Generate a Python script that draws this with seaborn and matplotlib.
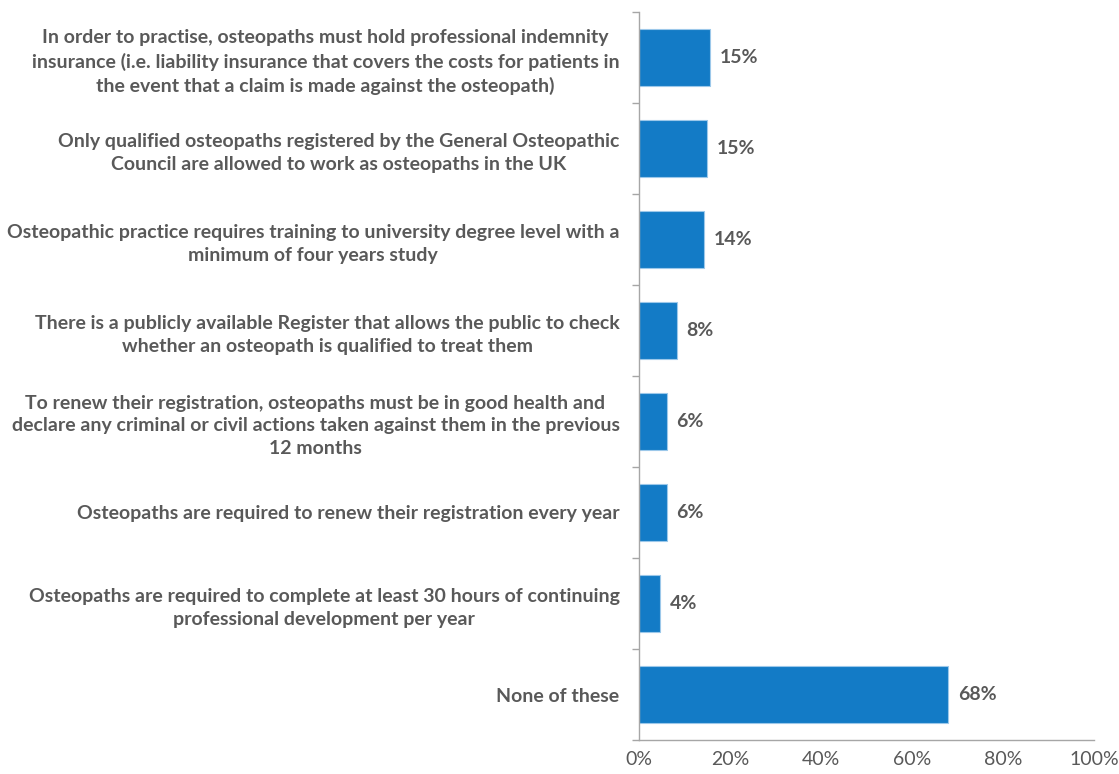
import matplotlib
matplotlib.use("Agg")
import matplotlib.pyplot as plt
from matplotlib.ticker import FixedLocator
import seaborn as sns
import pandas as pd

categories = [
    "In order to practise, osteopaths must hold professional indemnity\ninsurance (i.e. liability insurance that covers the costs for patients in\nthe event that a claim is made against the osteopath)",
    "Only qualified osteopaths registered by the General Osteopathic\nCouncil are allowed to work as osteopaths in the UK",
    "Osteopathic practice requires training to university degree level with a\nminimum of four years study",
    "There is a publicly available Register that allows the public to check\nwhether an osteopath is qualified to treat them",
    "To renew their registration, osteopaths must be in good health and\ndeclare any criminal or civil actions taken against them in the previous\n12 months",
    "Osteopaths are required to renew their registration every year",
    "Osteopaths are required to complete at least 30 hours of continuing\nprofessional development per year",
    "None of these",
]
values = [15.6, 14.9, 14.3, 8.3, 6.1, 6.1, 4.6, 67.9]
value_labels = ["15%", "15%", "14%", "8%", "6%", "6%", "4%", "68%"]
x_ticks = [0, 20, 40, 60, 80, 100]
x_tick_labels = ["0%", "20%", "40%", "60%", "80%", "100%"]

df = pd.DataFrame({"category": categories, "value": values})

sns.set_style("white")
plt.rcParams["font.family"] = ["Lato", "DejaVu Sans"]

GRAY = "#595959"
AXIS = "#A6A6A6"
BAR = "#137BC6"

fig = plt.figure(figsize=(11.19, 7.74), dpi=100)
ax = fig.add_axes([639 / 1119, 34 / 774, (1094 - 639) / 1119, (740 - 12) / 774])

sns.barplot(data=df, x="value", y="category", orient="h", color=BAR,
            saturation=1, width=0.63, edgecolor="#9CC8EA", linewidth=0.8, ax=ax)

ax.set_xlim(0, 100)
ax.set_ylim(len(categories) - 0.5, -0.5)
ax.set_xlabel("")
ax.set_ylabel("")

ax.set_xticks(x_ticks)
ax.set_xticklabels(x_tick_labels, color=GRAY, fontsize=14)
ax.tick_params(axis="x", direction="out", length=5, width=1, color=AXIS, pad=3)

ax.set_yticks(range(len(categories)))
ax.set_yticklabels(categories, fontsize=14, fontweight="bold", color=GRAY,
                   linespacing=1.4)
ax.tick_params(axis="y", which="major", length=0, pad=14)
ax.yaxis.set_minor_locator(FixedLocator([i - 0.5 for i in range(len(categories) + 1)]))
ax.tick_params(axis="y", which="minor", direction="out", length=5, width=1, color=AXIS, left=True)
for lbl in ax.get_yticklabels():
    lbl.set_horizontalalignment("right")
    lbl.set_multialignment("center")

for side in ["top", "right"]:
    ax.spines[side].set_visible(False)
for side in ["left", "bottom"]:
    ax.spines[side].set_color(AXIS)
    ax.spines[side].set_linewidth(1)

for i, (v, t) in enumerate(zip(values, value_labels)):
    ax.annotate(t, xy=(v, i), xytext=(7, 0), textcoords="offset points",
                ha="left", va="center", fontsize=14, fontweight="bold", color=GRAY)

fig.savefig("out.png", dpi=100, facecolor="white")
